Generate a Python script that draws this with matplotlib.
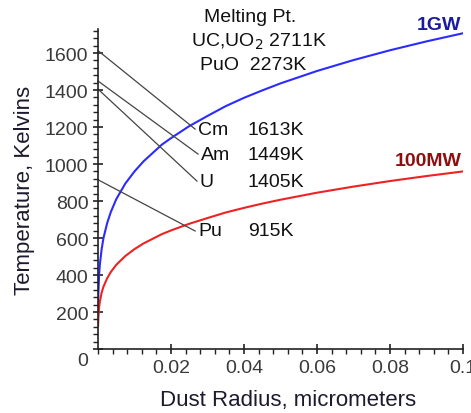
import matplotlib
matplotlib.use("Agg")
import matplotlib.pyplot as plt
from matplotlib.ticker import MultipleLocator

# ---- data ----
radius = [0.00003, 0.0001, 0.0003, 0.0005, 0.001, 0.0015, 0.0025, 0.0035, 0.005,
          0.0075, 0.01, 0.0125, 0.015, 0.0175, 0.02, 0.025, 0.03, 0.035, 0.04,
          0.045, 0.05, 0.06, 0.07, 0.08, 0.09, 0.1]
temp_1gw = [225, 300, 400, 455, 540, 600, 680, 740, 810,
            895, 960, 1015, 1060, 1105, 1140, 1205, 1260, 1313, 1358,
            1398, 1436, 1503, 1562, 1615, 1663, 1707]
temp_100mw = [127, 170, 225, 255, 305, 337, 382, 416, 455,
              503, 540, 571, 596, 621, 641, 677, 708, 738, 763,
              786, 807, 845, 878, 908, 935, 960]

elements = ["Cm", "Am", "U", "Pu"]
melt_k = [1613, 1449, 1405, 915]
label_x = [0.0266, 0.0274, 0.0271, 0.0266]
label_y = [1189, 1054, 908, 638]

xticks = [0.02, 0.04, 0.06, 0.08, 0.1]
xtick_labels = ["0.02", "0.04", "0.06", "0.08", "0.1"]
yticks = [0, 200, 400, 600, 800, 1000, 1200, 1400, 1600]
ytick_labels = ["", "200", "400", "600", "800", "1000", "1200", "1400", "1600"]

plt.rcParams["font.family"] = ["Liberation Sans", "DejaVu Sans"]

fig = plt.figure(figsize=(4.71, 4.14), dpi=100)
ax = fig.add_axes([98 / 471, 64 / 414, (463 - 98) / 471, (350 - 30) / 414])

ax.plot(radius, temp_1gw, color="#2b2bff", lw=1.5)
ax.plot(radius, temp_100mw, color="#ee2222", lw=1.5)

for el, t, lx, ly in zip(elements, melt_k, label_x, label_y):
    ax.plot([0, lx], [t, ly], color="#444444", lw=0.9, clip_on=False)
    ax.text(lx + 0.0008, ly, el, fontsize=14, va="center", ha="left", color="#111111")
    ax.text(0.0410, ly, f"{t}K", fontsize=14, va="center", ha="left", color="#111111")

ax.text(0.0416, 1795, "Melting Pt.", fontsize=14, ha="center", va="center", clip_on=False, color="#111111")
ax.text(0.0255, 1665, "UC,UO$_2$ 2711K", fontsize=14, ha="left", va="center", clip_on=False, color="#111111")
ax.text(0.0280, 1540, "PuO  2273K", fontsize=14, ha="left", va="center", clip_on=False, color="#111111")

ax.text(0.0995, 1757, "1GW", fontsize=14, fontweight="bold", color="#1a1aa0", ha="right", va="center", clip_on=False)
ax.text(0.0995, 1020, "100MW", fontsize=14, fontweight="bold", color="#8b1010", ha="right", va="center", clip_on=False)

ax.set_xlim(0, 0.1)
ax.set_ylim(0, 1730)
ax.set_xticks(xticks)
ax.set_xticklabels(xtick_labels)
ax.set_yticks(yticks)
ax.set_yticklabels(ytick_labels)
ax.xaxis.set_minor_locator(MultipleLocator(0.004))
ax.yaxis.set_minor_locator(MultipleLocator(40))

# the "0" of the temperature axis sits a little below the corner
ax.annotate("0", xy=(0, 0), xycoords="data", xytext=(-10, -12), textcoords="offset pixels",
            ha="right", va="center", fontsize=14, color="#3a3a3a", annotation_clip=False)

for s in ["top", "right"]:
    ax.spines[s].set_visible(False)
for s in ["left", "bottom"]:
    ax.spines[s].set_linewidth(1.2)
    ax.spines[s].set_color("#222222")

ax.tick_params(axis="both", which="major", direction="inout", length=7, width=1.2,
               color="#222222", labelcolor="#3a3a3a", labelsize=14)
ax.tick_params(axis="both", which="minor", direction="out", length=3.5, width=1.0, color="#222222")

ax.set_xlabel("Dust Radius, micrometers", fontsize=16, color="#1e1a2e")
ax.xaxis.set_label_coords(0.52, -0.125)
ax.set_ylabel("Temperature, Kelvins", fontsize=16, color="#1e1a2e")
ax.yaxis.set_label_coords(-0.172, 0.5)

fig.savefig("out.png", dpi=100)
